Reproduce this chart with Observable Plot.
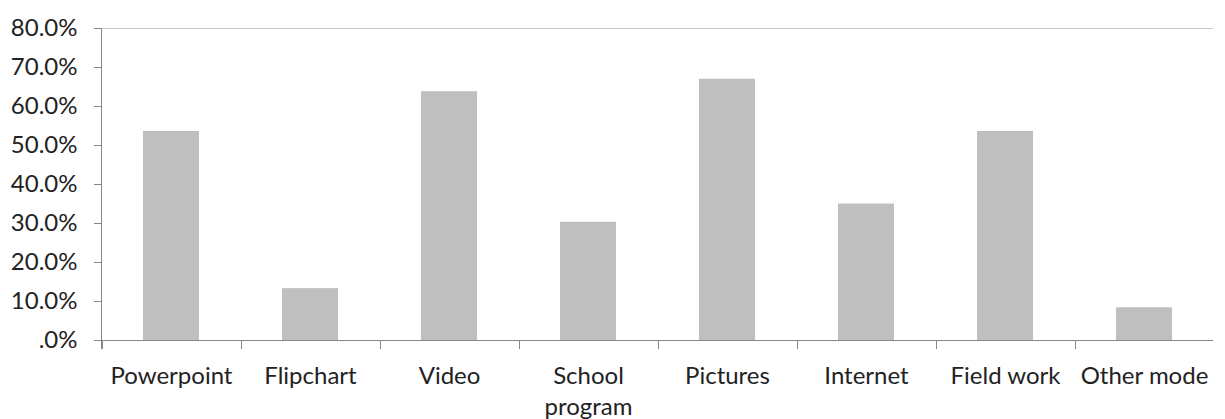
<!DOCTYPE html>
<html>
<head>
<meta charset="utf-8">
<script src="https://cdn.jsdelivr.net/npm/d3@7"></script>
<script src="https://cdn.jsdelivr.net/npm/@observablehq/plot@0.6"></script>
<style>
  html, body { margin: 0; padding: 0; background: #fff; }
</style>
</head>
<body>
<div id="chart"></div>
<script>
const categories = ["Powerpoint", "Flipchart", "Video", "School program", "Pictures", "Internet", "Field work", "Other mode"];
const tickLabels = ["Powerpoint", "Flipchart", "Video", "School\nprogram", "Pictures", "Internet", "Field work", "Other mode"];
const values = [0.536, 0.133, 0.638, 0.303, 0.670, 0.350, 0.536, 0.084];
const yTicks = [0, 0.1, 0.2, 0.3, 0.4, 0.5, 0.6, 0.7, 0.8];
const yTickLabels = [".0%", "10.0%", "20.0%", "30.0%", "40.0%", "50.0%", "60.0%", "70.0%", "80.0%"];

const data = categories.map((c, i) => ({category: c, value: values[i]}));
const axisColor = "#868686";

function axisLines(index, scales, values, dims) {
  const x = scales.x, y = scales.y;
  const bw = typeof x.bandwidth === "function" ? x.bandwidth() : x.bandwidth;
  const step = (dims.width - dims.marginLeft - dims.marginRight) / categories.length;
  const left = dims.marginLeft, right = dims.width - dims.marginRight;
  const y0 = y(0), yTop = y(yTicks[yTicks.length - 1]);
  const g = d3.create("svg:g").attr("stroke", axisColor).attr("fill", "none");
  g.append("line").attr("x1", left + 0.5).attr("x2", left + 0.5).attr("y1", yTop).attr("y2", y0 + 9);
  g.append("line").attr("x1", left).attr("x2", right).attr("y1", y0 + 0.5).attr("y2", y0 + 0.5);
  g.selectAll(".t").data(categories).join("line")
    .attr("x1", c => Math.round(x(c) + bw / 2 - step / 2) + 0.5)
    .attr("x2", c => Math.round(x(c) + bw / 2 - step / 2) + 0.5)
    .attr("y1", y0).attr("y2", y0 + 9);
  return g.node();
}

const plot = Plot.plot({
  width: 1225,
  height: 419,
  marginLeft: 101,
  marginRight: 12,
  marginTop: 28,
  marginBottom: 79,
  style: {fontFamily: "Lato, 'Open Sans', sans-serif", fontSize: "24px", color: "#222", background: "#fff"},
  x: {domain: categories, paddingInner: 0.6, paddingOuter: 0.3, label: null},
  y: {domain: [0, 0.8], label: null},
  marks: [
    Plot.ruleY([0.8], {stroke: "#c8c8c8", strokeWidth: 1}),
    Plot.barY(data, {x: "category", y: "value", fill: "#bfbfbf"}),
    Plot.axisY({ticks: yTicks, tickFormat: d => yTickLabels[yTicks.indexOf(d)], tickSize: 7, tickPadding: 17, stroke: axisColor, label: null}),
    Plot.axisX({tickSize: 0, tickPadding: 21, tickFormat: d => tickLabels[categories.indexOf(d)], lineHeight: 1.3, label: null}),
    axisLines
  ]
});
document.getElementById("chart").appendChild(plot);
</script>
</body>
</html>
